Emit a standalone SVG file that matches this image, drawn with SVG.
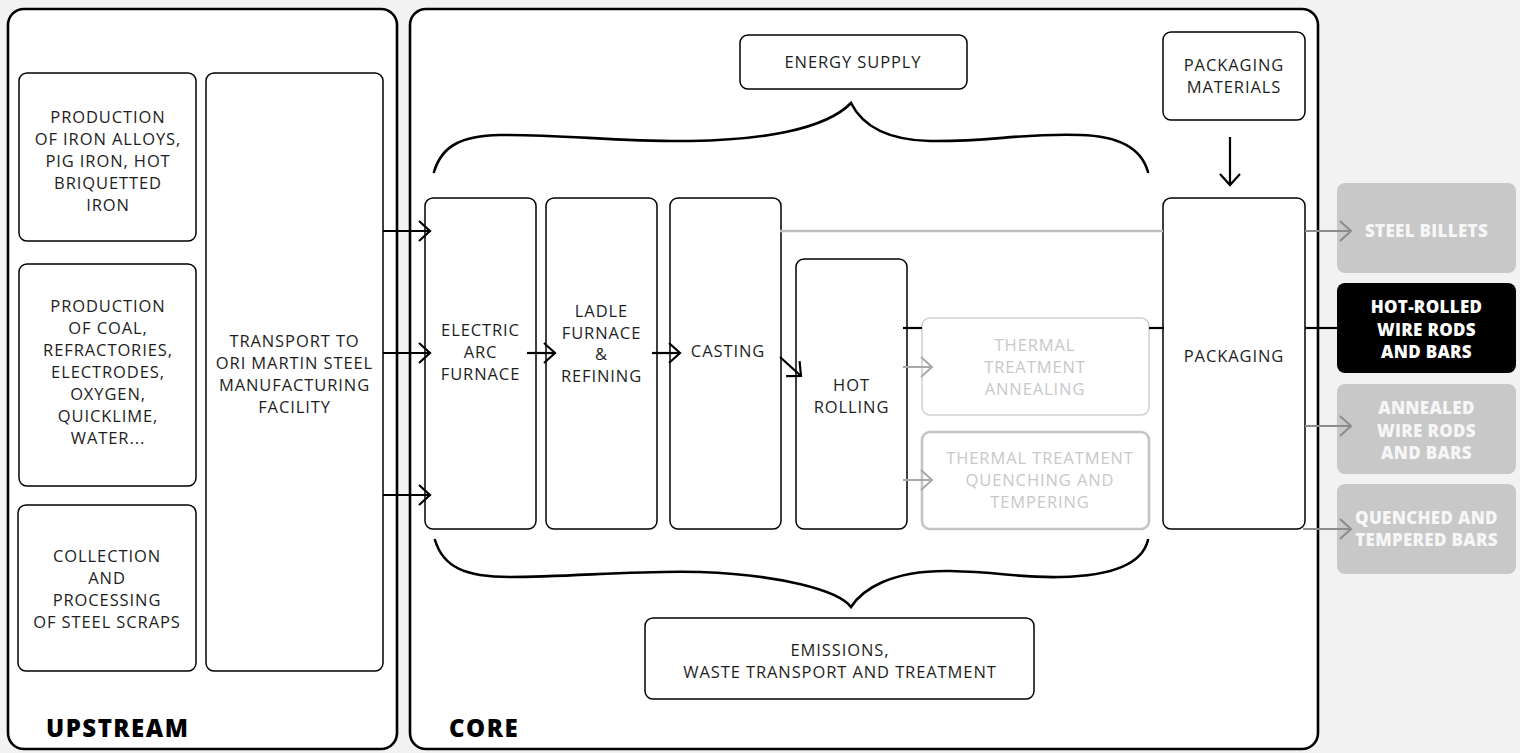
<svg xmlns="http://www.w3.org/2000/svg" width="1520" height="753" viewBox="0 0 1520 753">
<style>
.panel{fill:#fff;stroke:#000;stroke-width:2.6}
.box{fill:#fff;stroke:#000;stroke-width:1.5}
.gbox1{fill:#fff;stroke:#cfcfcf;stroke-width:1.5}
.gbox2{fill:#fff;stroke:#c4c4c4;stroke-width:2.6}
.out{fill:#c8c8c8}
.outk{fill:#000}
.t{font-family:"Open Sans","Liberation Sans",sans-serif;font-size:16.5px;letter-spacing:0.9px;fill:#1e1e1e;text-anchor:middle}
.tg{fill:#c8c8c8}
.tb{font-family:"Open Sans","Liberation Sans",sans-serif;font-size:17px;font-weight:800;letter-spacing:0.3px;fill:#f6f6f6;text-anchor:middle}
.tbk{fill:#fff}
.title{font-family:"Open Sans","Liberation Sans",sans-serif;font-size:24px;font-weight:800;letter-spacing:1.5px;fill:#000}
.ck{fill:none;stroke:#000;stroke-width:2.2}
.cg{fill:none;stroke:#8c8c8c;stroke-width:2}
.cl{fill:none;stroke:#bdbdbd;stroke-width:2.4}
.ca{fill:none;stroke:#a8a8a8;stroke-width:2}
.brace{fill:none;stroke:#000;stroke-width:2.6;stroke-linecap:round}
</style>
<defs>
<marker id="ak" markerUnits="userSpaceOnUse" markerWidth="16" markerHeight="26" refX="13" refY="12" orient="auto" overflow="visible">
<path d="M2,2 L13,12 L2,22" fill="none" stroke="#000" stroke-width="2.2"/>
</marker>
<marker id="ag" markerUnits="userSpaceOnUse" markerWidth="16" markerHeight="26" refX="13" refY="12" orient="auto" overflow="visible">
<path d="M2,2 L13,12 L2,22" fill="none" stroke="#8c8c8c" stroke-width="2"/>
</marker>
<marker id="aa" markerUnits="userSpaceOnUse" markerWidth="16" markerHeight="26" refX="13" refY="12" orient="auto" overflow="visible">
<path d="M2,2 L13,12 L2,22" fill="none" stroke="#a8a8a8" stroke-width="2"/>
</marker>
</defs>
<rect x="0" y="0" width="1520" height="753" fill="#f2f2f2"/>

<g id="upstream-panel">
<rect class="panel" x="8" y="9" width="389" height="740" rx="16"/>
<text class="title" x="46" y="737">UPSTREAM</text>
</g>
<g id="core-panel">
<rect class="panel" x="410" y="9" width="908" height="740" rx="16"/>
<text class="title" x="449" y="737">CORE</text>
</g>

<g id="iron-alloys">
<rect class="box" x="19" y="73" width="177" height="168" rx="8"/>
<text class="t"><tspan x="108" y="123">PRODUCTION</tspan><tspan x="108" y="145">OF IRON ALLOYS,</tspan><tspan x="108" y="167">PIG IRON, HOT</tspan><tspan x="108" y="189">BRIQUETTED</tspan><tspan x="108" y="211">IRON</tspan></text>
</g>
<g id="coal">
<rect class="box" x="19" y="264" width="177" height="222" rx="8"/>
<text class="t"><tspan x="108" y="312">PRODUCTION</tspan><tspan x="108" y="334">OF COAL,</tspan><tspan x="108" y="356">REFRACTORIES,</tspan><tspan x="108" y="378">ELECTRODES,</tspan><tspan x="108" y="400">OXYGEN,</tspan><tspan x="108" y="422">QUICKLIME,</tspan><tspan x="108" y="444">WATER...</tspan></text>
</g>
<g id="scraps">
<rect class="box" x="18" y="505" width="178" height="166" rx="8"/>
<text class="t"><tspan x="107" y="562">COLLECTION</tspan><tspan x="107" y="584">AND</tspan><tspan x="107" y="606">PROCESSING</tspan><tspan x="107" y="628">OF STEEL SCRAPS</tspan></text>
</g>
<g id="transport">
<rect class="box" x="206" y="73" width="177" height="598" rx="8"/>
<text class="t"><tspan x="294.5" y="347">TRANSPORT TO</tspan><tspan x="294.5" y="369">ORI MARTIN STEEL</tspan><tspan x="294.5" y="391">MANUFACTURING</tspan><tspan x="294.5" y="413">FACILITY</tspan></text>
</g>

<g id="energy-supply">
<rect class="box" x="740" y="35" width="227" height="54" rx="8"/>
<text class="t" x="853" y="68">ENERGY SUPPLY</text>
</g>
<g id="packaging-materials">
<rect class="box" x="1163" y="32" width="142" height="88" rx="8"/>
<text class="t"><tspan x="1234" y="71">PACKAGING</tspan><tspan x="1234" y="93">MATERIALS</tspan></text>
</g>
<g id="eaf">
<rect class="box" x="425" y="198" width="111" height="331" rx="8"/>
<text class="t"><tspan x="480.5" y="336">ELECTRIC</tspan><tspan x="480.5" y="358">ARC</tspan><tspan x="480.5" y="380">FURNACE</tspan></text>
</g>
<g id="ladle">
<rect class="box" x="546" y="198" width="111" height="331" rx="8"/>
<text class="t"><tspan x="601.5" y="317">LADLE</tspan><tspan x="601.5" y="339">FURNACE</tspan><tspan x="601.5" y="360">&amp;</tspan><tspan x="601.5" y="382">REFINING</tspan></text>
</g>
<g id="casting">
<rect class="box" x="670" y="198" width="111" height="331" rx="8"/>
<text class="t" x="728" y="357">CASTING</text>
</g>
<g id="hot-rolling">
<rect class="box" x="796" y="259" width="111" height="270" rx="8"/>
<text class="t"><tspan x="851.5" y="391">HOT</tspan><tspan x="851.5" y="413">ROLLING</tspan></text>
</g>
<g id="annealing">
<rect class="gbox1" x="922" y="318" width="227" height="97" rx="8"/>
<text class="t tg"><tspan x="1035" y="351">THERMAL</tspan><tspan x="1035" y="373">TREATMENT</tspan><tspan x="1035" y="395">ANNEALING</tspan></text>
</g>
<g id="quenching">
<rect class="gbox2" x="922" y="432" width="227" height="97" rx="8"/>
<text class="t tg"><tspan x="1040" y="464">THERMAL TREATMENT</tspan><tspan x="1040" y="486">QUENCHING AND</tspan><tspan x="1040" y="508">TEMPERING</tspan></text>
</g>
<g id="packaging">
<rect class="box" x="1163" y="198" width="142" height="331" rx="8"/>
<text class="t" x="1234" y="362">PACKAGING</text>
</g>
<g id="emissions">
<rect class="box" x="645" y="618" width="389" height="81" rx="8"/>
<text class="t"><tspan x="840" y="656">EMISSIONS,</tspan><tspan x="840" y="678">WASTE TRANSPORT AND TREATMENT</tspan></text>
</g>

<g id="steel-billets">
<rect class="out" x="1337" y="183" width="179" height="90" rx="8"/>
<text class="tb" x="1426.5" y="237">STEEL BILLETS</text>
</g>
<g id="hot-rolled">
<rect class="outk" x="1337" y="283" width="179" height="90" rx="8"/>
<text class="tb tbk"><tspan x="1426.5" y="313">HOT-ROLLED</tspan><tspan x="1426.5" y="336">WIRE RODS</tspan><tspan x="1426.5" y="358">AND BARS</tspan></text>
</g>
<g id="annealed">
<rect class="out" x="1337" y="384" width="179" height="90" rx="8"/>
<text class="tb"><tspan x="1426.5" y="414">ANNEALED</tspan><tspan x="1426.5" y="437">WIRE RODS</tspan><tspan x="1426.5" y="459">AND BARS</tspan></text>
</g>
<g id="quenched">
<rect class="out" x="1337" y="484" width="179" height="90" rx="8"/>
<text class="tb"><tspan x="1426.5" y="524">QUENCHED AND</tspan><tspan x="1426.5" y="546">TEMPERED BARS</tspan></text>
</g>

<g id="connectors">
<path class="brace" d="M434,172 C442,145 462,136 500,135 C560,134 620,142 690,141 C760,140 825,130 851,103 C862,125 885,140 930,141 C990,142 1020,133 1080,135 C1122,136 1142,150 1148,172"/>
<path class="brace" d="M435,540 C443,567 465,577 510,577 C570,577 640,570 700,572 C780,575 838,590 851,607 C862,590 890,570 950,571 C1000,572 1020,578 1060,577 C1110,576 1142,565 1148,540"/>
<path class="ck" d="M383,231 H430" marker-end="url(#ak)"/>
<path class="ck" d="M383,353 H430" marker-end="url(#ak)"/>
<path class="ck" d="M383,495 H430" marker-end="url(#ak)"/>
<path class="ck" d="M527,353 H555" marker-end="url(#ak)"/>
<path class="ck" d="M652,353 H680" marker-end="url(#ak)"/>
<path class="ck" d="M780,357 L801,376" marker-end="url(#ak)"/>
<path class="ck" d="M1230,137 V185" marker-end="url(#ak)"/>
<path class="cl" d="M780,231 H1163"/>
<path class="cg" d="M1305,231 H1351" marker-end="url(#ag)"/>
<path class="ck" d="M903,328 H922"/>
<path class="ck" d="M1149,328 H1164"/>
<path class="ck" d="M1305,328 H1337"/>
<path class="ca" d="M903,367 H932" marker-end="url(#aa)"/>
<path class="ca" d="M903,480 H932" marker-end="url(#aa)"/>
<path class="cg" d="M1305,426 H1351" marker-end="url(#ag)"/>
<path class="cg" d="M1303,529 H1351" marker-end="url(#ag)"/>
</g>
</svg>
